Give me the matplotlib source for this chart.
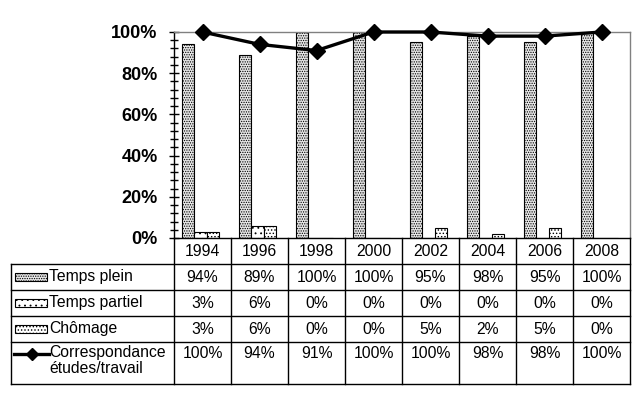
import matplotlib
matplotlib.use("Agg")
import matplotlib.pyplot as plt
from matplotlib.patches import Rectangle
from matplotlib.lines import Line2D
from matplotlib.ticker import MultipleLocator, PercentFormatter
import numpy as np

plt.rcParams['font.family'] = ['Liberation Sans', 'DejaVu Sans']
plt.rcParams['hatch.linewidth'] = 0.6

years = ['1994', '1996', '1998', '2000', '2002', '2004', '2006', '2008']
temps_plein = [94, 89, 100, 100, 95, 98, 95, 100]
temps_partiel = [3, 6, 0, 0, 0, 0, 0, 0]
chomage = [3, 6, 0, 0, 5, 2, 5, 0]
correspondance = [100, 94, 91, 100, 100, 98, 98, 100]

bar_series = [
    ('Temps plein', temps_plein, '#e6e6e6', '.......'),
    ('Temps partiel', temps_partiel, 'white', '...'),
    ('Chômage', chomage, 'white', '.....'),
]
line_label = 'Correspondance\nétudes/travail'

W, H = 639, 399
fig = plt.figure(figsize=(W / 100, H / 100), dpi=100)

def fx(x):
    return x / W

def fy(y):
    return 1 - y / H

# plot area in pixels
L, R, T, B = 174, 630, 32, 238
ax = fig.add_axes([fx(L), fy(B), fx(R) - fx(L), fy(T) - fy(B)])

n = len(years)
x = np.arange(n)
w = 0.215
shift = -0.035
for k, (lab, vals, fc, hatch) in enumerate(bar_series):
    ax.bar(x + shift + (k - 1) * w, vals, width=w, facecolor=fc, edgecolor='black',
           hatch=hatch, linewidth=0.8, zorder=2)

ax.plot(x, correspondance, color='black', linewidth=2.4, marker='D', markersize=8.5,
        zorder=3, clip_on=False)

ax.set_xlim(-0.5, n - 0.5)
ax.set_ylim(0, 100)
ax.yaxis.set_major_locator(MultipleLocator(20))
ax.yaxis.set_minor_locator(MultipleLocator(4))
ax.yaxis.set_major_formatter(PercentFormatter(decimals=0))
ax.tick_params(axis='y', which='major', direction='inout', length=7.5, width=1,
               pad=8, labelsize=13)
ax.tick_params(axis='y', which='minor', direction='inout', length=5.5, width=1)
for t in ax.get_yticklabels():
    t.set_fontweight('bold')
ax.set_xticks([])
ax.spines['left'].set_color('black')
ax.spines['left'].set_linewidth(1)
ax.spines['bottom'].set_visible(False)
ax.spines['top'].set_color('#808080')
ax.spines['right'].set_color('#808080')
ax.spines['top'].set_linewidth(1)
ax.spines['right'].set_linewidth(1)

# ---- data table below ----
lw = 1.0
col_w = (R - L) / n
row_y = [264, 290, 316, 342, 384]
left_x = 11

def hline(y, x0, x1):
    fig.add_artist(Line2D([fx(x0), fx(x1)], [fy(y), fy(y)], color='black', lw=lw))

def vline(xp, y0, y1):
    fig.add_artist(Line2D([fx(xp), fx(xp)], [fy(y0), fy(y1)], color='black', lw=lw))

hline(B, L, R)
for y in row_y:
    hline(y, left_x, R)
vline(left_x, row_y[0], row_y[-1])
for i in range(n + 1):
    vline(L + i * col_w, B, row_y[-1])

fs = 11.3
for i, yr in enumerate(years):
    fig.text(fx(L + (i + 0.5) * col_w), fy((B + row_y[0]) / 2), yr,
             ha='center', va='center', fontsize=fs)

rows_vals = [s[1] for s in bar_series] + [correspondance]
for r, vals in enumerate(rows_vals):
    if r < 3:
        yc = (row_y[r] + row_y[r + 1]) / 2
    else:
        yc = row_y[r] + 12
    for i, v in enumerate(vals):
        fig.text(fx(L + (i + 0.5) * col_w), fy(yc), f'{v}%',
                 ha='center', va='center', fontsize=fs)

# legend keys and labels
for r, (lab, vals, fc, hatch) in enumerate(bar_series):
    yc = (row_y[r] + row_y[r + 1]) / 2
    fig.add_artist(Rectangle((fx(15), fy(yc + 4)), fx(47) - fx(15), fy(yc - 4) - fy(yc + 4),
                             transform=fig.transFigure, facecolor=fc, edgecolor='black',
                             hatch=hatch, linewidth=0.8))
    fig.text(fx(49), fy(yc), lab, ha='left', va='center', fontsize=fs)

yl = row_y[3] + 12
fig.add_artist(Line2D([fx(14), fx(49)], [fy(yl), fy(yl)], color='black', lw=2.4))
fig.add_artist(Line2D([fx(32)], [fy(yl)], color='black', marker='D', markersize=6))
fig.text(fx(49), fy(row_y[3] + 3), line_label, ha='left', va='top', fontsize=fs,
         linespacing=1.1)

fig.savefig('out.png', dpi=100)
